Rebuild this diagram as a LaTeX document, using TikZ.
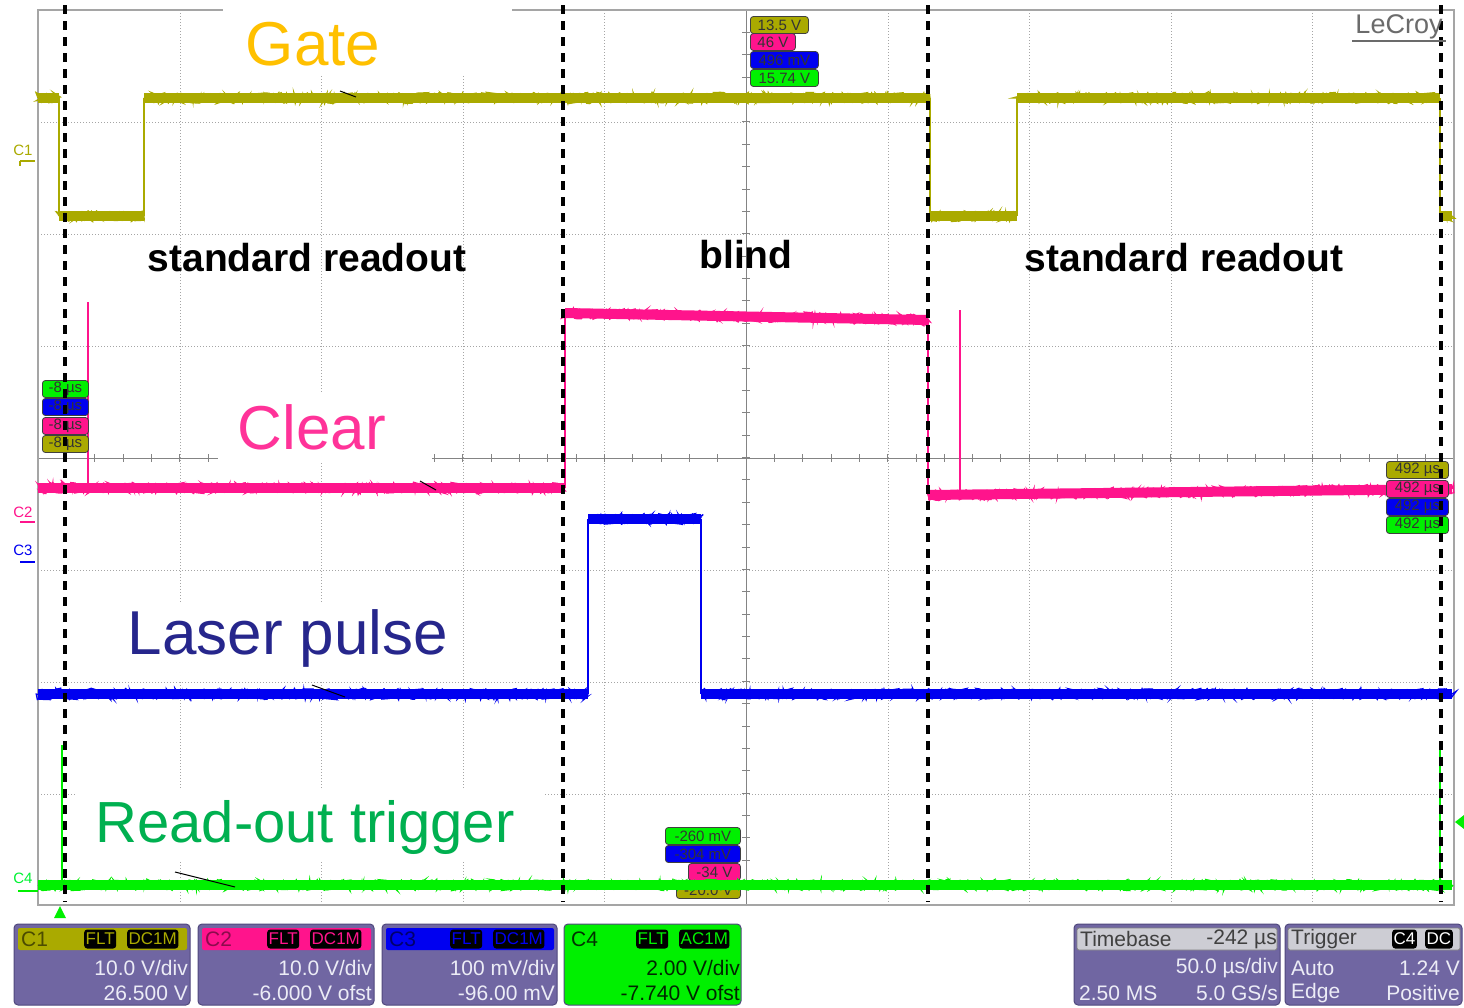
\documentclass[tikz,border=0pt]{standalone}
\usepackage{fontspec}
\setmainfont{Liberation Sans}
\usetikzlibrary{decorations.pathmorphing}
\definecolor{olivetr}{RGB}{170,170,0}
\definecolor{pinktr}{RGB}{255,20,140}
\definecolor{bluetr}{RGB}{0,0,240}
\definecolor{greentr}{RGB}{0,240,0}
\definecolor{panelbg}{RGB}{112,102,162}
\definecolor{panelbd}{RGB}{80,72,125}
\definecolor{paneltx}{RGB}{236,236,246}
\definecolor{gateor}{RGB}{255,192,0}
\definecolor{clearpk}{RGB}{255,51,153}
\definecolor{lasernv}{RGB}{38,38,140}
\definecolor{rotgreen}{RGB}{0,176,80}
\definecolor{gridgr}{RGB}{165,165,165}
\definecolor{hdrgray}{RGB}{205,205,212}
\newcommand\bandseg[5]{%
  \draw[#1,line width=10pt,line cap=butt] (#2,#3) -- (#4,#5);
  \draw[#1,line width=1.3pt,decorate,decoration={random steps,segment length=1.1pt,amplitude=5.6pt}] (#2,#3) -- (#4,#5);}
\begin{document}
\begin{tikzpicture}[x=1pt,y=-1pt,
  gridln/.style={gridgr,line width=0.9pt,dash pattern=on 1pt off 2pt},
  axisln/.style={gridgr!80!black,line width=0.8pt},
  frameln/.style={gridgr,line width=1.6pt},
  edge/.style={line width=1.6pt},
  cutline/.style={black,line width=3.6pt,dash pattern=on 9pt off 7pt},
  biglabel/.style={font=\fontsize{62}{62}\selectfont,inner sep=0pt},
  seclabel/.style={font=\fontsize{39}{39}\selectfont\bfseries,inner sep=0pt},
  tagbox/.style={draw=black!75,line width=0.8pt,rounded corners=3pt,inner sep=0.5pt,
     minimum height=17pt,font=\fontsize{15}{15}\selectfont,text=black!80,anchor=west},
  ptext/.style={font=\fontsize{21}{21}\selectfont,text=paneltx,inner sep=0pt},
  htext/.style={font=\fontsize{21}{21}\selectfont,inner sep=0pt},
  blk/.style={fill=black,rounded corners=3pt,inner sep=1.5pt,minimum height=19pt,
     font=\fontsize{17}{17}\selectfont},
  panel/.style={fill=panelbg,draw=panelbd,line width=1pt,rounded corners=4pt}]
\useasboundingbox (0,0) rectangle (1464,1007);
\fill[white] (0,0) rectangle (1464,1007);

% grid
\foreach \x in {180,321,463,604,888,1029,1171,1312} \draw[gridln] (\x,10) -- (\x,905);
\foreach \y in {122,234,346,570,682,794} \draw[gridln] (38,\y) -- (1454,\y);
\draw[axisln] (746,10) -- (746,905);
\draw[axisln] (38,458) -- (1454,458);
\foreach \i in {1,...,39} \draw[axisln] (742,10+\i*22.375) -- (750,10+\i*22.375);
\foreach \i in {1,...,49} \draw[axisln] (38+\i*28.32,454) -- (38+\i*28.32,462);
\draw[frameln] (38,10) rectangle (1454,905);

% white label backgrounds
\fill[white] (223,0) rectangle (512,76);
\fill[white] (218,393) rectangle (432,462);
\fill[white] (105,602) rectangle (462,680);
\fill[white] (75,790) rectangle (545,862);

% Gate trace (olive)
\bandseg{olivetr}{38}{98}{59}{98}
\bandseg{olivetr}{59}{216}{144}{216}
\bandseg{olivetr}{144}{98}{930}{98}
\bandseg{olivetr}{930}{216}{1017}{216}
\bandseg{olivetr}{1017}{98}{1440}{98}
\bandseg{olivetr}{1440}{216}{1452}{216}
\draw[olivetr,edge] (59,98) -- (59,216);
\draw[olivetr,edge] (144,216) -- (144,98);
\draw[olivetr,edge] (930,98) -- (930,216);
\draw[olivetr,edge] (1017,216) -- (1017,98);
\draw[olivetr,edge] (1440,98) -- (1440,216);

% Clear trace (pink)
\bandseg{pinktr}{38}{488}{565}{488}
\bandseg{pinktr}{565}{313}{928}{320}
\bandseg{pinktr}{928}{495}{1452}{489}
\draw[pinktr,edge] (565,488) -- (565,313);
\draw[pinktr,edge] (928,320) -- (928,495);
\draw[pinktr,line width=2pt] (88,490) -- (88,302);
\draw[pinktr,line width=2pt] (960,493) -- (960,310);

% Laser pulse trace (blue)
\bandseg{bluetr}{38}{694}{588}{694}
\bandseg{bluetr}{588}{519}{701}{519}
\bandseg{bluetr}{701}{694}{1452}{694}
\draw[bluetr,edge] (588,694) -- (588,519);
\draw[bluetr,edge] (701,519) -- (701,694);

% bottom tags (behind green trace)
\node[tagbox,fill=olivetr,minimum width=64pt] (tb4) at (676,890) {-20.0 V};
\node[tagbox,fill=pinktr,minimum width=52pt] (tb3) at (688,872) {-34 V};
\node[tagbox,fill=bluetr,minimum width=75pt] (tb2) at (665,854) {-304 mV};
\node[tagbox,fill=greentr,minimum width=75pt] (tb1) at (665,836) {-260 mV};

% Read-out trigger trace (green)
\bandseg{greentr}{38}{885}{1452}{885}
\draw[greentr,line width=2pt] (62,885) -- (62,745);
\draw[greentr,line width=2pt] (1440,885) -- (1440,745);

% small cursor artefacts
\draw[black,line width=1pt] (340,91) -- (356,97);
\draw[black,line width=1pt] (420,481) -- (436,490);
\draw[black,line width=1pt] (312,685) -- (345,697);
\draw[black,line width=1pt] (175,872) -- (235,887);

% top tags
\node[tagbox,fill=olivetr,minimum width=58pt] (tt1) at (750,25) {13.5 V};
\node[tagbox,fill=pinktr,minimum width=45pt] (tt2) at (750,42) {46 V};
\node[tagbox,fill=bluetr,minimum width=68pt] (tt3) at (750,60) {496 mV};
\node[tagbox,fill=greentr,minimum width=68pt] (tt4) at (750,78) {15.74 V};

% left tags
\node[tagbox,fill=greentr,minimum width=46pt] (tl1) at (42,389) {-8 µs};
\node[tagbox,fill=bluetr,minimum width=46pt] (tl2) at (42,407) {-8 µs};
\node[tagbox,fill=pinktr,minimum width=46pt] (tl3) at (42,426) {-8 µs};
\node[tagbox,fill=olivetr,minimum width=46pt] (tl4) at (42,444) {-8 µs};

% right tags
\node[tagbox,fill=olivetr,minimum width=62pt] (tr1) at (1386,470) {492 µs};
\node[tagbox,fill=pinktr,minimum width=62pt] (tr2) at (1386,489) {492 µs};
\node[tagbox,fill=bluetr,minimum width=62pt] (tr3) at (1386,507) {492 µs};
\node[tagbox,fill=greentr,minimum width=62pt] (tr4) at (1386,525) {492 µs};

% dashed separators
\foreach \x in {65,563,928,1441} \draw[cutline] (\x,5) -- (\x,902);

% big labels
\node[biglabel,text=gateor] (gate) at (313,44) {Gate};
\node[biglabel,text=clearpk] (clear) at (312,427) {Clear};
\node[biglabel,text=lasernv] (laser) at (288,638) {Laser pulse};
\node[biglabel,text=rotgreen,font=\fontsize{58}{58}\selectfont] (rot) at (305,827) {Read-out trigger};
\node[seclabel] (sr1) at (307,258) {standard readout};
\node[seclabel] (bl) at (746,255) {blind};
\node[seclabel] (sr2) at (1184,258) {standard readout};

% LeCroy
\node[font=\fontsize{27}{27}\selectfont,text=black!58,inner sep=0pt] (lecroy) at (1399,27) {LeCroy};
\draw[black!58,line width=1.5pt] (1352,41) -- (1446,41);

% left channel markers
\node[font=\fontsize{15}{15}\selectfont,text=olivetr,inner sep=0pt] (m1) at (23,150) {C1};
\draw[olivetr,line width=2pt] (20,161) -- (35,161) (20,161) -- (20,166);
\node[font=\fontsize{15}{15}\selectfont,text=pinktr,inner sep=0pt] (m2) at (23,512) {C2};
\draw[pinktr,line width=2.5pt] (20,522) -- (35,522);
\node[font=\fontsize{15}{15}\selectfont,text=bluetr,inner sep=0pt] (m3) at (23,550) {C3};
\draw[bluetr,line width=2.5pt] (20,562) -- (35,562);
\node[font=\fontsize{15}{15}\selectfont,text=greentr!80!cyan,inner sep=0pt] (m4) at (23,878) {C4};
\draw[greentr,line width=2pt] (18,891) -- (38,891);
\fill[greentr] (54,918) -- (66,918) -- (60,906) -- cycle;
\fill[greentr] (1464,815) -- (1464,829) -- (1455,822) -- cycle;

% ---- bottom panels ----
% C1
\fill[panel] (14,924) rectangle (190,1005);
\fill[olivetr,rounded corners=2pt] (18,928) rectangle (187,950);
\node[htext,anchor=west,text=olivetr!45!black] (c1h) at (21,939) {C1};
\node[blk,text=olivetr,anchor=west] (c1f) at (84,939) {FLT};
\node[blk,text=olivetr,anchor=west] (c1d) at (127,939) {DC1M};
\node[ptext,anchor=east] (c1a) at (188,968) {10.0 V/div};
\node[ptext,anchor=east] (c1b) at (188,993) {26.500 V};
% C2
\fill[panel] (198,924) rectangle (374,1005);
\fill[pinktr,rounded corners=2pt] (202,928) rectangle (371,950);
\node[htext,anchor=west,text=pinktr!55!black] (c2h) at (205,939) {C2};
\node[blk,text=pinktr,anchor=west] (c2f) at (267,939) {FLT};
\node[blk,text=pinktr,anchor=west] (c2d) at (310,939) {DC1M};
\node[ptext,anchor=east] (c2a) at (372,968) {10.0 V/div};
\node[ptext,anchor=east] (c2b) at (372,993) {-6.000 V ofst};
% C3
\fill[panel] (382,924) rectangle (557,1005);
\fill[bluetr,rounded corners=2pt] (386,928) rectangle (554,950);
\node[htext,anchor=west,text=bluetr!45!black] (c3h) at (389,939) {C3};
\node[blk,text=bluetr,anchor=west] (c3f) at (450,939) {FLT};
\node[blk,text=bluetr,anchor=west] (c3d) at (493,939) {DC1M};
\node[ptext,anchor=east] (c3a) at (555,968) {100 mV/div};
\node[ptext,anchor=east] (c3b) at (555,993) {-96.00 mV};
% C4
\fill[greentr,draw=panelbd,line width=1pt,rounded corners=4pt] (564,924) rectangle (741,1005);
\node[htext,anchor=west,text=black!80!green] (c4h) at (571,939) {C4};
\node[blk,text=greentr,anchor=west] (c4f) at (636,939) {FLT};
\node[blk,text=greentr,anchor=west] (c4d) at (679,939) {AC1M};
\node[htext,anchor=east,text=black!85!green] (c4a) at (740,968) {2.00 V/div};
\node[htext,anchor=east,text=black!85!green] (c4b) at (740,993) {-7.740 V ofst};
% Timebase
\fill[panel] (1074,924) rectangle (1280,1005);
\fill[hdrgray,draw=black!50,line width=0.8pt,rounded corners=2pt] (1077,928) rectangle (1277,950);
\node[htext,anchor=west,text=black!75] (tbh) at (1080,939) {Timebase};
\node[htext,anchor=east,text=black!75] (tbv) at (1277,939) {-242 µs};
\node[ptext,anchor=east] (tba) at (1278,968) {50.0 µs/div};
\node[ptext,anchor=west] (tbb) at (1079,993) {2.50 MS};
\node[ptext,anchor=east] (tbc) at (1278,993) {5.0 GS/s};
% Trigger
\fill[panel] (1285,924) rectangle (1462,1005);
\fill[hdrgray,draw=black!50,line width=0.8pt,rounded corners=2pt] (1288,928) rectangle (1460,950);
\node[htext,anchor=west,text=black!75] (trh) at (1291,939) {Trigger};
\node[blk,text=white,anchor=west] (trc) at (1392,939) {C4};
\node[blk,text=white,anchor=west] (trd) at (1425,939) {DC};
\node[ptext,anchor=west] (tra) at (1291,968) {Auto};
\node[ptext,anchor=east] (trv) at (1460,968) {1.24 V};
\node[ptext,anchor=west] (trb) at (1291,993) {Edge};
\node[ptext,anchor=east] (trp) at (1460,993) {Positive};
\end{tikzpicture}
\end{document}
